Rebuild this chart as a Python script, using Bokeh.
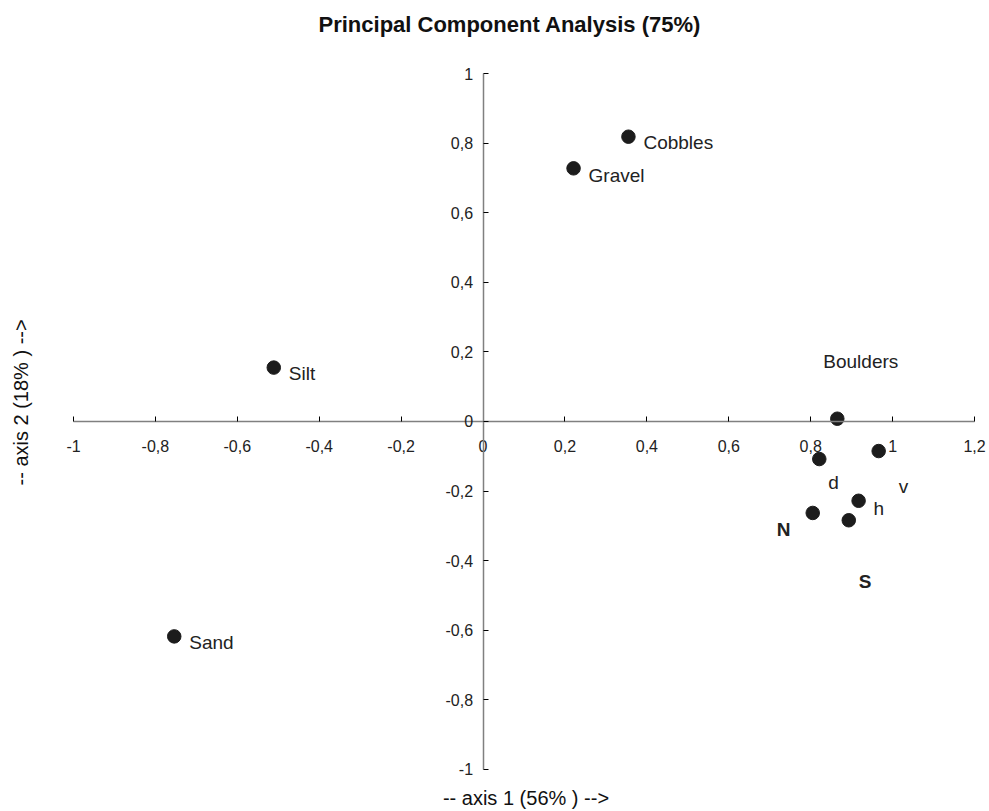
from bokeh.plotting import figure
from bokeh.models import Range1d, FixedTicker, CustomJSTickFormatter, LinearAxis, ColumnDataSource, Title
from bokeh.embed import file_html
from bokeh.resources import INLINE
from bokeh.core.properties import value

# ---- data ----
names = ["Cobbles", "Gravel", "Silt", "Sand", "Boulders", "d", "v", "h", "N", "S"]
axis1 = [0.355, 0.221, -0.511, -0.754, 0.865, 0.821, 0.966, 0.917, 0.805, 0.893]
axis2 = [0.819, 0.728, 0.155, -0.618, 0.008, -0.108, -0.085, -0.228, -0.263, -0.284]
x_ticks = [-1, -0.8, -0.6, -0.4, -0.2, 0, 0.2, 0.4, 0.6, 0.8, 1, 1.2]
y_ticks = [-1, -0.8, -0.6, -0.4, -0.2, 0, 0.2, 0.4, 0.6, 0.8, 1]
title_text = "Principal Component Analysis (75%)"
x_title = "-- axis 1 (56% ) -->"
y_title = "-- axis 2 (18% ) -->"

# ---- layout (pixels) ----
W, H = 989, 811
FRAME_L, FRAME_R, FRAME_T, FRAME_B = 63, 988, 63, 779
XT0_PX, XT1_PX = 73.0, 974.0      # pixel of first / last x tick
YT1_PX, YT0_PX = 73.3, 771.7      # pixel of top / bottom y tick
xs = (XT1_PX - XT0_PX) / (x_ticks[-1] - x_ticks[0])
ys = (YT0_PX - YT1_PX) / (y_ticks[-1] - y_ticks[0])
x_start = x_ticks[0] - (XT0_PX - FRAME_L) / xs
x_end = x_ticks[-1] + (FRAME_R - XT1_PX) / xs
y_end = y_ticks[-1] + (YT1_PX - FRAME_T) / ys
y_start = y_ticks[0] - (FRAME_B - YT0_PX) / ys

# ---- label layout (pixel offsets / styles) ----
label_dx = [15, 15, 15, 15, -14, 9, 20, 15, -36, 10]
label_dy = [6, 7, 6, 6, -57, 23, 35, 8, 17, 61]
label_style = ["normal"] * 8 + ["bold", "bold"]

FONT = "Liberation Sans"

src = ColumnDataSource(dict(x=axis1, y=axis2, name=names, dx=label_dx, dy=label_dy, style=label_style))

p = figure(width=W, height=H, output_backend="svg", toolbar_location=None, title=None,
           x_range=Range1d(x_start, x_end), y_range=Range1d(y_start, y_end),
           min_border_left=FRAME_L, min_border_right=W - FRAME_R,
           min_border_top=FRAME_T, min_border_bottom=H - FRAME_B)
p.outline_line_color = None
p.xgrid.visible = False
p.ygrid.visible = False
p.background_fill_color = "white"
p.border_fill_color = "white"

fmt = CustomJSTickFormatter(code="return (Math.round(tick*10)/10).toString().replace('.', ',');")

for ax, ticks in ((p.xaxis[0], x_ticks), (p.yaxis[0], y_ticks)):
    ax.fixed_location = 0
    ax.bounds = (ticks[0], ticks[-1])
    ax.ticker = FixedTicker(ticks=ticks)
    ax.formatter = fmt
    ax.axis_line_color = "#808080"
    ax.axis_line_width = 1.5
    ax.major_tick_line_color = "black"
    ax.major_tick_in = 5
    ax.major_tick_out = 0
    ax.minor_tick_line_color = None
    ax.major_label_text_font = FONT
    ax.major_label_text_font_size = "16px"
    ax.major_label_text_color = "#222222"
p.xaxis[0].major_label_standoff = 19
p.yaxis[0].major_label_standoff = 10

blank = CustomJSTickFormatter(code="return '';")


def spacer(px, at):
    # invisible axis whose only job is to reserve `px` pixels next to the frame
    return LinearAxis(ticker=FixedTicker(ticks=[at]), formatter=blank, axis_line_color=None,
                      major_tick_line_color="white", major_tick_in=0, major_tick_out=px,
                      minor_tick_line_color=None, major_label_standoff=0,
                      major_label_text_font_size="0px")


# bottom axis title
bx = LinearAxis(ticker=FixedTicker(ticks=[]), axis_label=x_title, axis_line_color=None,
                major_tick_line_color=None, minor_tick_line_color=None,
                axis_label_standoff=10, axis_label_text_font=FONT,
                axis_label_text_font_size="20px", axis_label_text_font_style="normal",
                axis_label_text_color="#111111")
p.add_layout(bx, "below")

# left axis title
p.add_layout(spacer(30, -0.9), "left")
p.add_layout(Title(text=y_title, align="left", offset=291, standoff=4, vertical_align="bottom",
                   text_font=FONT, text_font_size="20px", text_font_style="normal",
                   text_color="#111111"), "left")

# chart title
p.add_layout(spacer(22, -0.9), "above")
p.add_layout(Title(text=title_text, align="left", offset=255, standoff=10, vertical_align="bottom",
                   text_font=FONT, text_font_size="22px", text_font_style="bold",
                   text_color="#111111"), "above")

p.scatter(x="x", y="y", source=src, size=13.5, color="#1c1c1c")
p.text(x="x", y="y", text="name", x_offset="dx", y_offset="dy", text_font_style="style",
       source=src, text_font=value(FONT), text_font_size="19px", text_baseline="alphabetic",
       text_align="left", text_color="#222222")

open("out.html", "w").write(file_html(p, INLINE))
